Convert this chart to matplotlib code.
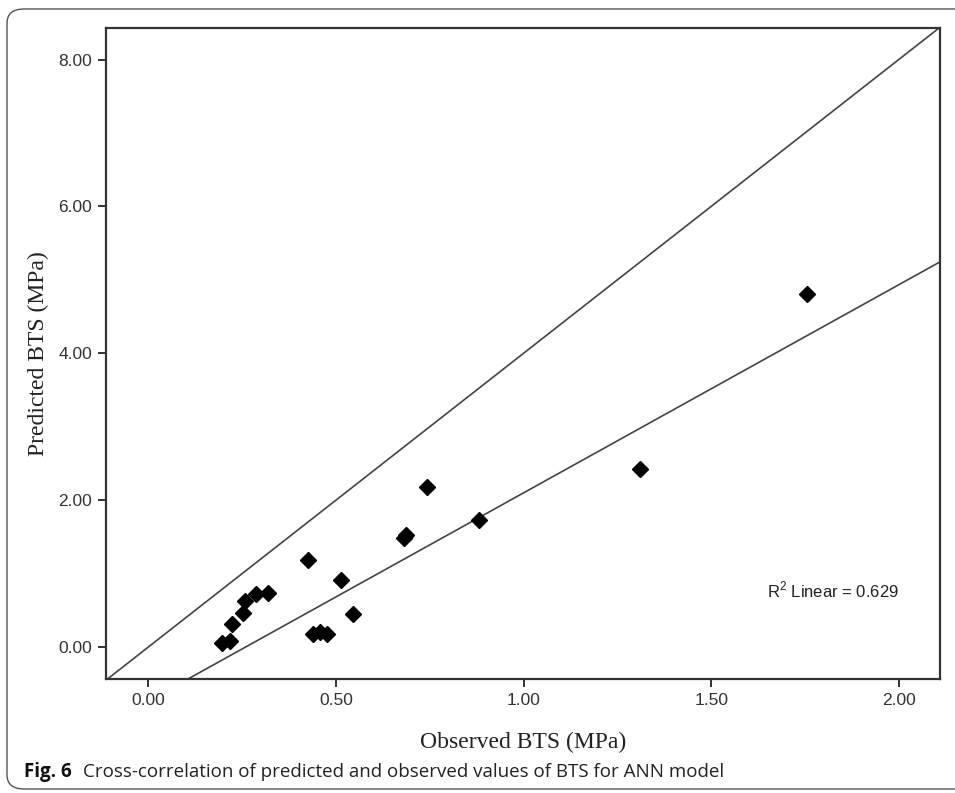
import numpy as np
import matplotlib.pyplot as plt
from matplotlib.patches import FancyBboxPatch

plt.rcParams['mathtext.fontset'] = 'custom'
plt.rcParams['mathtext.rm'] = 'Liberation Sans'

# values
observed = [1.756, 1.310, 0.743, 0.882, 0.680, 0.686, 0.425, 0.513, 0.545,
            0.320, 0.287, 0.257, 0.251, 0.222, 0.195, 0.217, 0.440, 0.457, 0.475]
predicted = [4.805, 2.425, 2.184, 1.730, 1.490, 1.520, 1.185, 0.913, 0.445,
             0.732, 0.718, 0.627, 0.459, 0.309, 0.050, 0.086, 0.173, 0.208, 0.173]

x_ticks = [0.0, 0.5, 1.0, 1.5, 2.0]
y_ticks = [0.0, 2.0, 4.0, 6.0, 8.0]

ref_slope = 4.0
fit_slope = 2.834
fit_intercept = -0.735
r2_text = r"R$^{\mathrm{2}}$ Linear = 0.629"

W, H = 955, 793
fig = plt.figure(figsize=(W / 100, H / 100), dpi=100)

# rounded frame around the whole figure
frame = FancyBboxPatch((7 / W, 1 - 789 / H), 1.2, (789 - 9) / H,
                       boxstyle="round,pad=0,rounding_size=0.018",
                       transform=fig.transFigure, fill=False,
                       edgecolor="#555555", linewidth=1.0)
fig.patches.append(frame)

ax = fig.add_axes([106 / W, 1 - 679 / H, (940 - 106) / W, (679 - 28) / H])
ax.set_xlim(-0.113, 2.110)
ax.set_ylim(-0.436, 8.43)

ax.axline((0, 0), slope=ref_slope, color="#444444", linewidth=1.2)
ax.axline((0, fit_intercept), slope=fit_slope, color="#444444", linewidth=1.2)
ax.plot(observed, predicted, linestyle="none", marker="D", markersize=8.5,
        color="black")

ax.set_xticks(x_ticks)
ax.set_yticks(y_ticks)
ax.set_xticklabels(["%.2f" % v for v in x_ticks])
ax.set_yticklabels(["%.2f" % v for v in y_ticks])
ax.tick_params(direction="out", length=6, width=1.4, color="#333333",
               labelsize=12.5, labelcolor="#333333", pad=4)
for lab in ax.get_xticklabels() + ax.get_yticklabels():
    lab.set_family("Liberation Sans")
for sp in ax.spines.values():
    sp.set_color("#333333")
    sp.set_linewidth(1.6)

ax.set_xlabel("Observed BTS (MPa)", family="Liberation Serif", fontsize=17,
              color="#222222", labelpad=17)
ax.set_ylabel("Predicted BTS (MPa)", family="Liberation Serif", fontsize=17,
              color="#222222", labelpad=7)

ax.text(1.65, 0.77, r2_text, family="Liberation Sans", fontsize=12,
        color="#222222", va="center")

fig.text(24 / W, 1 - 772 / H, "Fig. 6", family="Open Sans", weight="bold",
         fontsize=13.5, va="center", color="#111111")
fig.text(83 / W, 1 - 772 / H,
         "Cross-correlation of predicted and observed values of BTS for ANN model",
         family="Open Sans", fontsize=13.5, va="center", color="#222222")

fig.savefig("out.png", dpi=100)
